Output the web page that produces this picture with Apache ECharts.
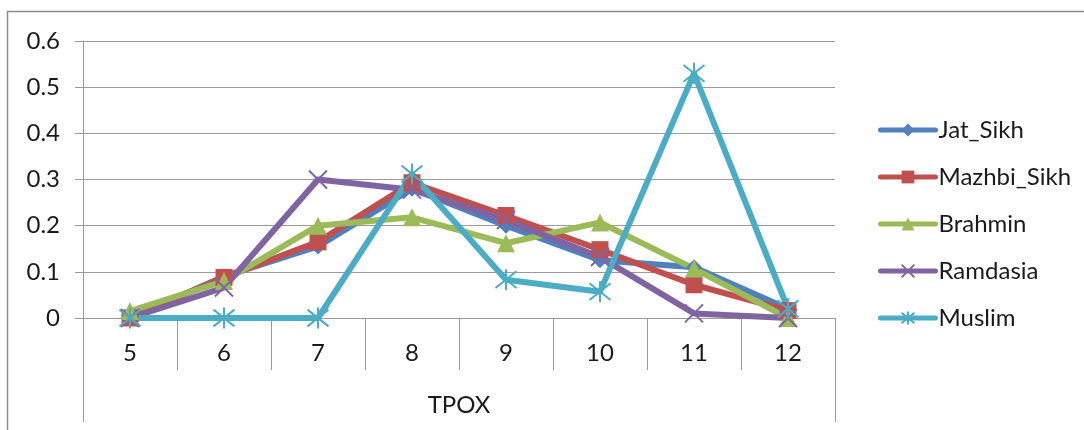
<!DOCTYPE html>
<html>
<head>
<meta charset="utf-8">
<script src="https://cdn.jsdelivr.net/npm/echarts@6/dist/echarts.min.js"></script>
<style>
  html, body { margin: 0; padding: 0; background: #fff; }
  #chart { width: 1084px; height: 430px; }
</style>
</head>
<body>
<div id="chart"></div>
<script>
// TPOX allele frequencies by population
const alleles = ['5', '6', '7', '8', '9', '10', '11', '12'];
const jatSikh    = [0, 0.09, 0.155, 0.28, 0.2, 0.125, 0.11, 0.02];
const mazhbiSikh = [0, 0.088, 0.165, 0.293, 0.222, 0.148, 0.072, 0.016];
const brahmin    = [0.015, 0.08, 0.2, 0.218, 0.162, 0.207, 0.107, 0];
const ramdasia   = [0, 0.066, 0.3, 0.278, 0.212, 0.132, 0.01, 0];
const muslim     = [0, 0, 0, 0.312, 0.083, 0.057, 0.53, 0.02];
const locusName  = 'TPOX';

const FONT = 'Lato, "Open Sans", sans-serif';
const AXIS_GREY = '#9a9a9a';
const TEXT = '#1a1a1a';

const crossPath = 'path://M0,0L20,20M20,0L0,20';
const starPath = 'path://M10,0L10,20M1,2L19,18M19,2L1,18';

function lineSeries(name, data, color, symbol, size, stroked) {
  return {
    name: name,
    type: 'line',
    data: data,
    symbol: symbol,
    symbolSize: size,
    showSymbol: true,
    lineStyle: { width: 6, color: color, cap: 'round', join: 'round' },
    itemStyle: stroked
      ? { color: color, borderColor: color, borderWidth: 2 }
      : { color: color, borderWidth: 0 },
    emphasis: { disabled: true }
  };
}

const chart = echarts.init(document.getElementById('chart'), null, { renderer: 'canvas' });
chart.setOption({
  animation: false,
  textStyle: { fontFamily: FONT },
  graphic: [{
    type: 'rect',
    shape: { x: 7.5, y: 11.5, width: 1200, height: 600 },
    style: { fill: 'none', stroke: '#8c8c8c', lineWidth: 1.5 },
    silent: true,
    z: -1
  }],
  grid: { left: 83, right: 249, top: 41, bottom: 112, containLabel: false },
  xAxis: [{
    type: 'category',
    data: alleles,
    boundaryGap: true,
    axisLine: { show: true, lineStyle: { color: AXIS_GREY, width: 1 } },
    axisTick: { show: true, interval: 0, length: 52, lineStyle: { color: AXIS_GREY } },
    axisLabel: { margin: 23, fontSize: 24, color: TEXT, fontFamily: FONT },
    splitLine: { show: false }
  }, {
    type: 'category',
    data: [locusName],
    position: 'bottom',
    offset: 52,
    boundaryGap: true,
    axisLine: { show: false },
    axisTick: { show: true, length: 52, lineStyle: { color: AXIS_GREY } },
    axisLabel: { margin: 23, fontSize: 24, color: TEXT, fontFamily: FONT }
  }],
  yAxis: {
    type: 'value',
    min: 0,
    max: 0.6,
    interval: 0.1,
    axisLine: { show: true, lineStyle: { color: AXIS_GREY, width: 1 } },
    axisTick: { show: true, length: 8, lineStyle: { color: AXIS_GREY } },
    axisLabel: { margin: 23, fontSize: 24, color: TEXT, fontFamily: FONT },
    splitLine: { show: true, lineStyle: { color: AXIS_GREY, width: 1 } }
  },
  legend: {
    orient: 'vertical',
    left: 873,
    top: 113,
    itemWidth: 55,
    itemHeight: 16,
    itemGap: 23,
    lineStyle: { width: 5 },
    textStyle: { fontSize: 24, color: TEXT, fontFamily: FONT, padding: [0, 0, 0, -2] },
    data: ['Jat_Sikh', 'Mazhbi_Sikh', 'Brahmin', 'Ramdasia', 'Muslim']
  },
  series: [
    lineSeries('Jat_Sikh', jatSikh, '#4F81BD', 'diamond', 16, false),
    lineSeries('Mazhbi_Sikh', mazhbiSikh, '#C0504D', 'rect', 17, false),
    lineSeries('Brahmin', brahmin, '#9BBB59', 'triangle', 18, false),
    lineSeries('Ramdasia', ramdasia, '#8064A2', crossPath, 18, true),
    lineSeries('Muslim', muslim, '#4BACC6', starPath, 21, true)
  ]
});
</script>
</body>
</html>
